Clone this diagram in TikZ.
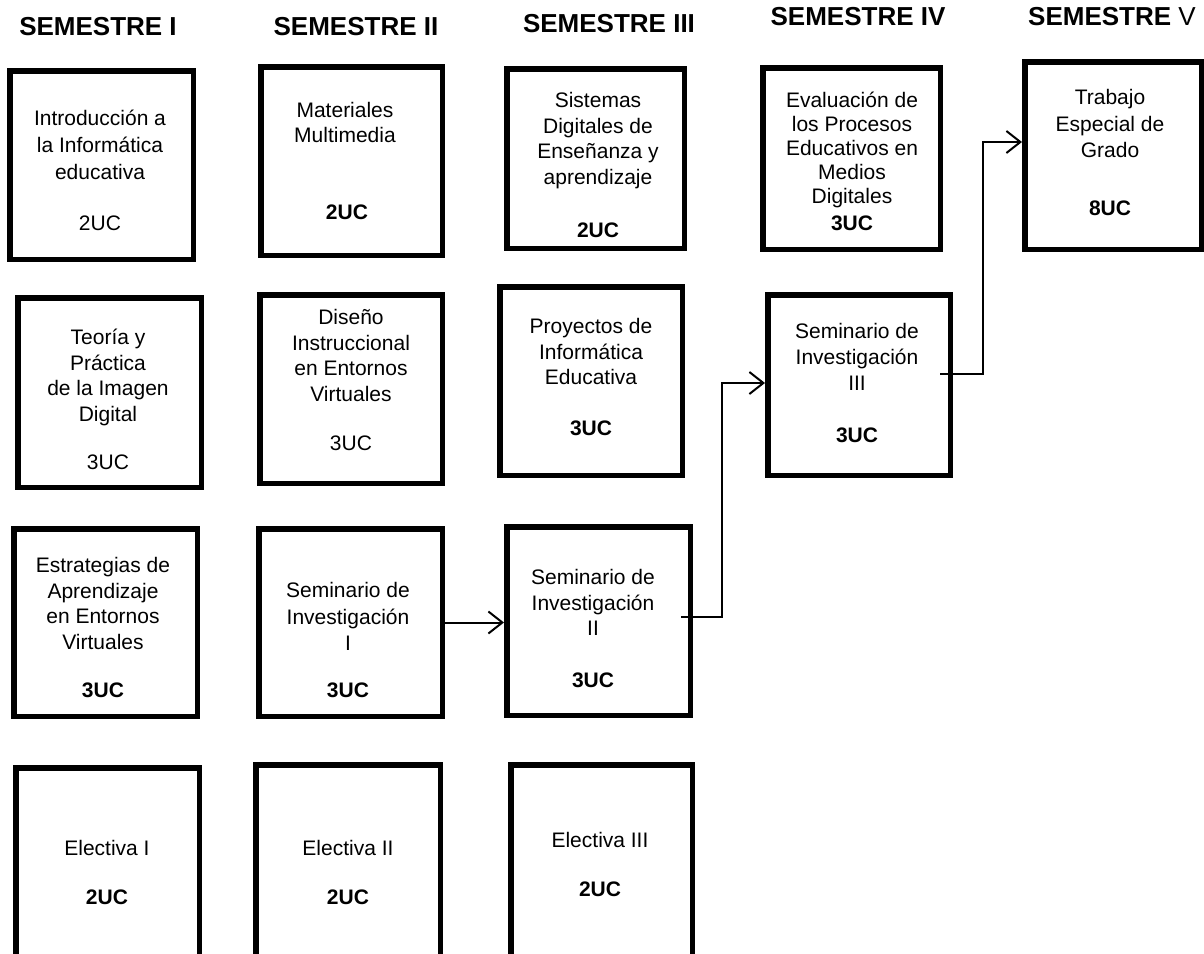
\documentclass[tikz,border=0pt]{standalone}
\usepackage{fontspec}
\setmainfont{Liberation Sans}
\usetikzlibrary{arrows.meta,calc}
\tikzset{
  box/.style={draw, line width=5.5pt, inner sep=0pt, fill=white},
  body/.style={align=center, font=\fontsize{21}{25.5}\selectfont, inner sep=0pt},
  uc/.style={font=\fontsize{21}{25}\selectfont\bfseries, inner sep=0pt},
  ucr/.style={font=\fontsize{21}{25}\selectfont, inner sep=0pt},
  head/.style={font=\fontsize{26}{30}\selectfont\bfseries, anchor=base, inner sep=0pt},
  conn/.style={line width=2pt, -{Straight Barb[length=14pt,width=22pt,line width=2pt]}},
}
\newcommand\mkbox[5]{\node[box, minimum width={(#4-#2-5.5)*1pt}, minimum height={(#5-#3-5.5)*1pt}] (#1) at ({(#2+#4)/2},{(#3+#5)/2}) {};}
\begin{document}
\begin{tikzpicture}[x=1pt,y=-1pt]
\clip (0,0) rectangle (1204,953);
\fill[white] (0,0) rectangle (1204,953);

% headers
\node[head] (h1) at (98,35) {SEMESTRE I};
\node[head] (h2) at (356,35) {SEMESTRE II};
\node[head] (h3) at (609,32) {SEMESTRE III};
\node[head] (h4) at (858,25) {SEMESTRE IV};
\node[head] (h5) at (1112,25) {SEMESTRE {\mdseries V}};

% boxes
\mkbox{b11}{7}{68}{196}{262}
\mkbox{b21}{258}{64}{445}{258}
\mkbox{b31}{504}{66}{687}{251}
\mkbox{b41}{760}{65}{943}{252}
\mkbox{b51}{1022}{59}{1204}{252}
\mkbox{b12}{15}{295}{204}{490}
\mkbox{b22}{257}{292}{445}{486}
\mkbox{b32}{497}{284}{685}{478}
\mkbox{b42}{765}{292}{953}{478}
\mkbox{b13}{11}{526}{200}{719}
\mkbox{b23}{256}{526}{445}{719}
\mkbox{b33}{504}{524}{693}{718}
\mkbox{b14}{13}{765}{202}{964}
\mkbox{b24}{253}{762}{443}{964}
\mkbox{b34}{508}{762}{695}{964}

% texts row 1
\node[body, font=\fontsize{21}{27}\selectfont] (t11) at (100,145) {Introducción a\\la Informática\\educativa};
\node[ucr] (u11) at (100,223) {2UC};
\node[body] (t21) at (345,122.5) {Materiales\\Multimedia};
\node[uc] (u21) at (347,212) {2UC};
\node[body] (t31) at (598,140.5) {Sistemas\\Digitales de\\Enseñanza y\\aprendizaje};
\node[uc] (u31) at (598,230) {2UC};
\node[body, font=\fontsize{21}{24}\selectfont] (t41) at (852,150) {Evaluación de\\los Procesos\\Educativos en\\Medios\\Digitales};
\node[uc] (u41) at (852,223) {3UC};
\node[body, font=\fontsize{21}{26.5}\selectfont] (t51) at (1110,123.5) {Trabajo\\Especial de\\Grado};
\node[uc] (u51) at (1110,208) {8UC};

% row 2
\node[body] (t12) at (108,377.5) {Teoría y\\Práctica\\de la Imagen\\Digital};
\node[ucr] (u12) at (108,462) {3UC};
\node[body] (t22) at (351,355.5) {Diseño\\Instruccional\\en Entornos\\Virtuales};
\node[ucr] (u22) at (351,443) {3UC};
\node[body] (t32) at (591,351.5) {Proyectos de\\Informática\\Educativa};
\node[uc] (u32) at (591,428) {3UC};
\node[body, font=\fontsize{21}{26}\selectfont] (t42) at (857,357) {Seminario de\\Investigación\\III};
\node[uc] (u42) at (857,435) {3UC};

% row 3
\node[body] (t13) at (103,603.5) {Estrategias de\\Aprendizaje\\en Entornos\\Virtuales};
\node[uc] (u13) at (103,690) {3UC};
\node[body, font=\fontsize{21}{26.5}\selectfont] (t23) at (348,616.5) {Seminario de\\Investigación\\I};
\node[uc] (u23) at (348,690) {3UC};
\node[body] (t33) at (593,602.5) {Seminario de\\Investigación\\II};
\node[uc] (u33) at (593,680) {3UC};

% row 4
\node[body] (t14) at (107,848) {Electiva I};
\node[uc] (u14) at (107,897) {2UC};
\node[body] (t24) at (348,848) {Electiva II};
\node[uc] (u24) at (348,897) {2UC};
\node[body] (t34) at (600,840) {Electiva III};
\node[uc] (u34) at (600,889) {2UC};

% connectors
\draw[conn] (b23.east) -- (b23.east -| b33.west);
\coordinate (s2) at ([xshift=-12pt,yshift=4pt]b33.east);
\coordinate (k1) at ([xshift=-43pt,yshift=2pt]b42.west);
\draw[conn] (s2) -| (k1) -- (k1 -| b42.west);
\coordinate (s3) at ([xshift=-13pt,yshift=11pt]b42.east);
\coordinate (k2) at ([xshift=-39pt,yshift=13.5pt]b51.west);
\draw[conn] (s3) -| (k2) -- (k2 -| b51.west);
\end{tikzpicture}
\end{document}
